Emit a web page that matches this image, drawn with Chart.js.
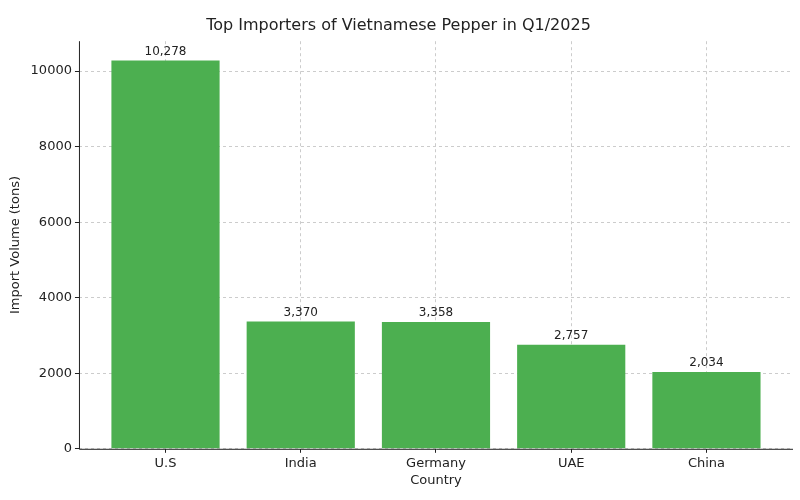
<!DOCTYPE html>
<html>
<head>
<meta charset="utf-8">
<script src="https://cdn.jsdelivr.net/npm/chart.js@4"></script>
<style>
  html, body { margin: 0; padding: 0; background: #fff; }
  #wrap { width: 800px; height: 500px; }
</style>
</head>
<body>
<div id="wrap"><canvas id="chart"></canvas></div>
<script>
var countries = ['U.S', 'India', 'Germany', 'UAE', 'China'];
var volumes = [10278, 3370, 3358, 2757, 2034];
var yTicks = [0, 2000, 4000, 6000, 8000, 10000];

Chart.defaults.font.family = 'DejaVu Sans';
Chart.defaults.color = '#222';

// value labels above bars + left/bottom spines
var barLabels = {
  id: 'barLabels',
  afterDatasetsDraw: function (chart) {
    var ctx = chart.ctx;
    var meta = chart.getDatasetMeta(0);
    var area = chart.chartArea;
    ctx.save();
    ctx.strokeStyle = '#222';
    ctx.lineWidth = 1;
    ctx.beginPath();
    ctx.moveTo(area.left + 0.5, area.top);
    ctx.lineTo(area.left + 0.5, area.bottom + 0.5);
    ctx.lineTo(area.right, area.bottom + 0.5);
    ctx.stroke();
    ctx.font = '12px DejaVu Sans';
    ctx.fillStyle = '#222';
    ctx.textAlign = 'center';
    ctx.textBaseline = 'bottom';
    meta.data.forEach(function (bar, i) {
      ctx.fillText(volumes[i].toLocaleString('en-US'), bar.x, bar.y - 3);
    });
    ctx.restore();
  }
};

var points = volumes.map(function (v, i) { return { x: i, y: v }; });

new Chart(document.getElementById('chart'), {
  type: 'bar',
  data: {
    datasets: [{
      data: points,
      backgroundColor: '#4caf50',
      categoryPercentage: 1,
      barPercentage: 0.8
    }]
  },
  options: {
    responsive: true,
    maintainAspectRatio: false,
    animation: false,
    layout: { padding: { top: 16, right: 7, left: 4, bottom: 12 } },
    plugins: {
      legend: { display: false },
      tooltip: { enabled: false },
      title: {
        display: true,
        text: 'Top Importers of Vietnamese Pepper in Q1/2025',
        font: { size: 16, weight: 'normal' },
        color: '#222',
        padding: { top: 0, bottom: 6 }
      }
    },
    scales: {
      x: {
        type: 'linear',
        min: -0.64,
        max: 4.64,
        offset: false,
        afterBuildTicks: function (axis) {
          axis.ticks = countries.map(function (c, i) { return { value: i }; });
        },
        ticks: {
          font: { size: 13 },
          callback: function (v) { return countries[v]; }
        },
        grid: { color: '#ccc', offset: false, tickColor: '#222', tickLength: 4 },
        border: { display: false, dash: [3, 3] },
        title: { display: true, text: 'Country', font: { size: 13 }, padding: { top: -2, bottom: 0 } }
      },
      y: {
        min: 0,
        max: 10792,
        afterBuildTicks: function (axis) {
          axis.ticks = yTicks.map(function (v) { return { value: v }; });
        },
        ticks: { font: { size: 13 }, callback: function (v) { return String(v); } },
        grid: { color: '#ccc', tickColor: '#222', tickLength: 4 },
        border: { display: false, dash: [3, 3] },
        title: { display: true, text: 'Import Volume (tons)', font: { size: 13 } }
      }
    }
  },
  plugins: [barLabels]
});
</script>
</body>
</html>
